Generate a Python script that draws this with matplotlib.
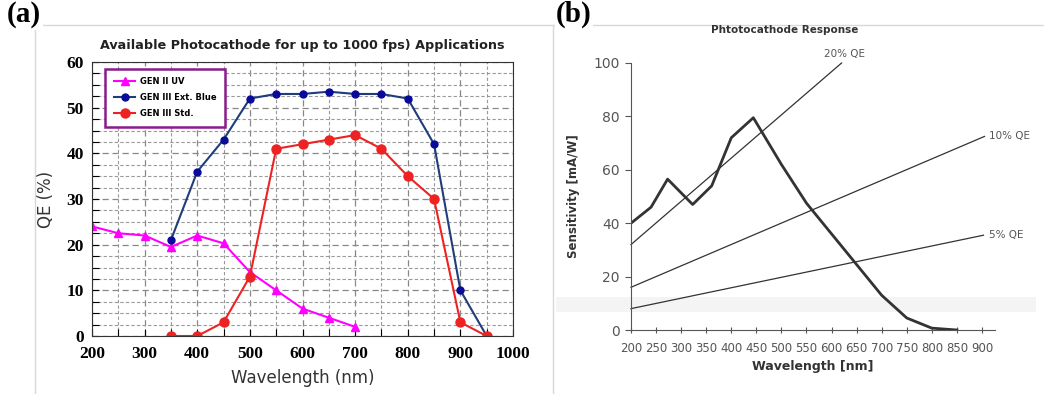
import matplotlib
matplotlib.use('Agg')
import matplotlib.pyplot as plt
from matplotlib.lines import Line2D
from matplotlib.patches import Rectangle

# panel (a): photocathode QE
wl_uv = [200, 250, 300, 350, 400, 450, 500, 550, 600, 650, 700]
qe_uv = [24, 22.5, 22, 19.5, 22, 20.3, 14, 10, 6, 4, 2]
wl_blue = [350, 400, 450, 500, 550, 600, 650, 700, 750, 800, 850, 900, 950]
qe_blue = [21, 36, 43, 52, 53, 53, 53.5, 53, 53, 52, 42, 10, 0]
wl_std = [350, 400, 450, 500, 550, 600, 650, 700, 750, 800, 850, 900, 950]
qe_std = [0, 0, 3, 13, 41, 42, 43, 44, 41, 35, 30, 3, 0]
names_a = ['GEN II UV', 'GEN III Ext. Blue', 'GEN III Std.']

# panel (b): sensitivity curve and constant-QE lines
wl_sens = [200, 240, 273, 323, 361, 400, 444, 500, 550, 600, 650, 700, 750, 800, 850]
sens = [40, 46, 56.5, 47, 54, 72, 79.5, 62, 47.5, 36, 24.5, 13, 4.5, 0.7, 0]
qe_lines = {
    '20% QE': ([200, 620], [32, 100]),
    '10% QE': ([200, 905], [16, 72.5]),
    '5% QE': ([200, 903], [8, 35.5]),
}

W, H = 1044, 394
fig = plt.figure(figsize=(W / 100, H / 100), dpi=100)


def fx(px):
    return px / W


def fy(py):
    return 1 - py / H


# frame lines of the two panels
fig.add_artist(Line2D([fx(35), fx(35)], [fy(25), fy(394)], color='#d8d8d8', lw=1))
fig.add_artist(Line2D([fx(553), fx(553)], [fy(25), fy(394)], color='#d8d8d8', lw=1))
fig.add_artist(Line2D([fx(35), fx(1044)], [fy(25), fy(25)], color='#d8d8d8', lw=1))
fig.add_artist(Rectangle((fx(556), fy(312)), fx(480), fy(297) - fy(312),
                         color='#f4f4f4', lw=0, zorder=0))
fig.text(fx(7), fy(22), '(a)', family='Liberation Serif', weight='bold', fontsize=21,
         bbox=dict(fc='white', ec='none', pad=1))
fig.text(fx(556), fy(22), '(b)', family='Liberation Serif', weight='bold', fontsize=21,
         bbox=dict(fc='white', ec='none', pad=1))

# ---- panel (a)
ax = fig.add_axes([fx(92), fy(336), fx(513 - 92), fy(62) - fy(336)])
ax.plot(wl_uv, qe_uv, color='#ff00ff', marker='^', ms=6, lw=1.5, label=names_a[0])
ax.plot(wl_blue, qe_blue, color='#1f3d7a', marker='o', ms=5, mfc='#0a0a9a',
        mec='#0a0a9a', lw=1.5, label=names_a[1])
ax.plot(wl_std, qe_std, color='#ee2222', marker='o', ms=6.5, lw=1.5, label=names_a[2])
ax.set_xlim(200, 1000)
ax.set_ylim(0, 60)
ax.set_xticks(range(200, 1001, 100))
ax.set_yticks(range(0, 61, 10))
ax.set_xticks(range(250, 1000, 100), minor=True)
ax.set_yticks([v / 2 for v in range(5, 120, 5)], minor=True)
ax.grid(True, which='major', color='#888888', ls=(0, (5, 3)), lw=0.9)
ax.grid(True, which='minor', color='#999999', ls=(0, (3, 2)), lw=0.8)
ax.tick_params(which='both', direction='in', length=5, width=0.8)
ax.tick_params(axis='x', pad=7)
ax.tick_params(axis='y', pad=6)
for lab in ax.get_xticklabels() + ax.get_yticklabels():
    lab.set_family('Liberation Serif')
    lab.set_weight('bold')
    lab.set_fontsize(12.5)
for s in ax.spines.values():
    s.set_color('#333333')
ax.set_title('Available Photocathode for up to 1000 fps) Applications',
             fontsize=9.2, weight='bold', pad=9, color='#222222')
ax.set_xlabel('Wavelength (nm)', fontsize=12, color='#333333', labelpad=5)
ax.set_ylabel('QE (%)', fontsize=12, color='#333333', labelpad=8)
leg = ax.legend(loc='upper left', bbox_to_anchor=(0.022, 0.99),
                prop=dict(weight='bold', size=6),
                fancybox=False, framealpha=1, borderpad=1.0, labelspacing=0.85,
                handlelength=2.6, handletextpad=0.6)
leg.get_frame().set_edgecolor('#8b1a8b')
leg.get_frame().set_linewidth(1.8)

# ---- panel (b)
bx = fig.add_axes([fx(631), fy(330), fx(995 - 631), fy(63) - fy(330)])
bx.patch.set_alpha(0)
bx.plot(wl_sens, sens, color='#333333', lw=2)
for lab, (xs, ys) in qe_lines.items():
    bx.plot(xs, ys, color='#333333', lw=0.9, clip_on=False)
bx.text(585, 101.5, '20% QE', fontsize=7.5, color='#555555', va='bottom', ha='left')
bx.text(915, 72.5, '10% QE', fontsize=7.5, color='#555555', va='center', ha='left')
bx.text(915, 35.5, '5% QE', fontsize=7.5, color='#555555', va='center', ha='left')
bx.set_xlim(200, 926)
bx.set_ylim(0, 100)
bx.set_xticks(range(200, 901, 50))
bx.set_yticks(range(0, 101, 20))
for side in ['top', 'right']:
    bx.spines[side].set_visible(False)
for side in ['left', 'bottom']:
    bx.spines[side].set_color('#555555')
bx.tick_params(axis='y', direction='out', length=4, colors='#555555', labelsize=10,
               labelcolor='#555555', pad=4)
bx.tick_params(axis='x', direction='inout', length=5, colors='#555555', labelsize=8.5,
               labelcolor='#555555', pad=6)
fig.text(fx(785), fy(30), 'Phtotocathode Response', fontsize=7.5, weight='bold',
         color='#333333', ha='center', va='center')
bx.set_xlabel('Wavelength [nm]', fontsize=9, weight='bold', color='#333333', labelpad=4)
bx.set_ylabel('Sensitivity [mA/W]', fontsize=8.5, weight='bold', color='#333333',
              labelpad=10)

fig.savefig('out.png', dpi=100)
